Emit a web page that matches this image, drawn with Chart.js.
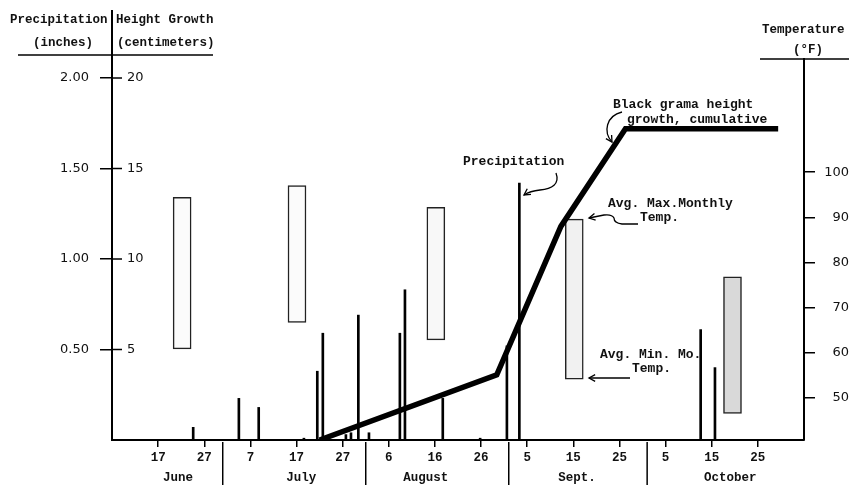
<!DOCTYPE html>
<html><head><meta charset="utf-8">
<script src="https://cdn.jsdelivr.net/npm/chart.js@4/dist/chart.umd.min.js"></script>
<style>html,body{margin:0;padding:0;background:#fff;}canvas{display:block;}</style>
</head><body>
<canvas id="c" width="849" height="485"></canvas>
<script>
// Day numbers counted from June 1 = 1
const precipDays   = [24.6, 34.5, 38.8, 48.6, 51.5, 52.7, 57.7, 58.8, 60.4, 62.7, 69.4, 70.5, 78.7, 86.8, 92.6, 95.3, 134.6, 137.7];
const precipInches = [0.07, 0.23, 0.18, 0.01, 0.38, 0.59, 0.03, 0.04, 0.69, 0.04, 0.59, 0.83, 0.23, 0.01, 0.52, 1.42, 0.61, 0.40];
const growthDays = [52, 90.4, 104.3, 118.3, 151.4];
const growthCm   = [0, 3.6, 11.8, 17.2, 17.2];
const tempDays = [22.2, 47.1, 77.2, 107.2, 141.5];
const tempMin  = [60.8, 66.7, 62.8, 54.1, 46.5];
const tempMax  = [94.4, 97.0, 92.2, 89.6, 76.8];
const dayTicks      = [17, 27, 37, 47, 57, 67, 77, 87, 97, 107, 117, 127, 137, 147];
const dayTickLabels = ['17','27','7','17','27','6','16','26','5','15','25','5','15','25'];
const monthStarts    = [31, 62, 93, 123];
const monthNames     = ['June', 'July', 'August', 'Sept.', 'October'];
const monthLabelDays = [21.3, 48, 75, 107.8, 141];
const inchTicks      = [0.5, 1, 1.5, 2];
const inchTickLabels = ['0.50', '1.00', '1.50', '2.00'];
const cmTicks        = [5, 10, 15, 20];
const cmTickLabels   = ['5', '10', '15', '20'];
const tempTicks      = [50, 60, 70, 80, 90, 100];

const TW = '"Liberation Mono", "Courier New", monospace';
const SANS = '"DejaVu Sans", sans-serif';

function arrowHead(ctx, x, y, fromX, fromY, len) {
  const a = Math.atan2(y - fromY, x - fromX);
  ctx.beginPath();
  ctx.moveTo(x - len * Math.cos(a - 0.5), y - len * Math.sin(a - 0.5));
  ctx.lineTo(x, y);
  ctx.lineTo(x - len * Math.cos(a + 0.5), y - len * Math.sin(a + 0.5));
  ctx.stroke();
}

const decor = {
  id: 'decor',
  afterDraw(chart) {
    const ctx = chart.ctx;
    const xs = chart.scales.x, yc = chart.scales.yCm;
    const ca = chart.chartArea;
    ctx.save();
    ctx.strokeStyle = '#000';
    ctx.fillStyle = '#111';
    // left axis extension upward and header rules
    ctx.lineWidth = 2;
    ctx.beginPath(); ctx.moveTo(ca.left, 10); ctx.lineTo(ca.left, ca.top); ctx.stroke();
    ctx.lineWidth = 1.5;
    ctx.beginPath(); ctx.moveTo(18, 55); ctx.lineTo(213, 55); ctx.stroke();
    ctx.beginPath(); ctx.moveTo(760, ca.top); ctx.lineTo(849, ca.top); ctx.stroke();
    // cm ticks and labels
    ctx.font = '13px ' + SANS;
    ctx.textAlign = 'left'; ctx.textBaseline = 'middle';
    cmTicks.forEach((v, i) => {
      const py = yc.getPixelForValue(v);
      ctx.beginPath(); ctx.moveTo(ca.left, py); ctx.lineTo(ca.left + 10, py); ctx.stroke();
      ctx.fillText(cmTickLabels[i], ca.left + 15, py);
    });
    // month dividers and labels
    ctx.lineWidth = 1.5;
    monthStarts.forEach(d => {
      const px = xs.getPixelForValue(d);
      ctx.beginPath(); ctx.moveTo(px, ca.bottom + 2); ctx.lineTo(px, 485); ctx.stroke();
    });
    ctx.font = 'bold 12.5px ' + TW;
    ctx.textAlign = 'center';
    monthNames.forEach((m, i) => ctx.fillText(m, xs.getPixelForValue(monthLabelDays[i]), 478));
    // headers
    ctx.textAlign = 'left';
    ctx.font = 'bold 12.5px ' + TW;
    ctx.fillText('Precipitation', 10, 20);
    ctx.fillText('Height Growth', 116, 20);
    ctx.fillText('(inches)', 33, 43);
    ctx.fillText('(centimeters)', 117, 43);
    ctx.fillText('Temperature', 762, 30);
    ctx.fillText('(°F)', 793, 50);
    // annotations
    ctx.font = 'bold 13px ' + TW;
    ctx.fillText('Precipitation', 463, 162);
    ctx.fillText('Black grama height', 613, 105);
    ctx.fillText('growth, cumulative', 627, 120);
    ctx.fillText('Avg. Max.Monthly', 608, 204);
    ctx.fillText('Temp.', 640, 218);
    ctx.fillText('Avg. Min. Mo.', 600, 355);
    ctx.fillText('Temp.', 632, 369);
    ctx.lineWidth = 1.3;
    // precipitation arrow
    ctx.beginPath(); ctx.moveTo(556, 173);
    ctx.bezierCurveTo(560, 184, 552, 189, 540, 190);
    ctx.quadraticCurveTo(530, 191, 524, 195); ctx.stroke();
    arrowHead(ctx, 524, 195, 530, 191, 7);
    // growth arrow
    ctx.beginPath(); ctx.moveTo(622, 112);
    ctx.bezierCurveTo(606, 116, 603, 132, 612, 142); ctx.stroke();
    arrowHead(ctx, 612, 142, 607, 134, 7);
    // max temp arrow
    ctx.beginPath(); ctx.moveTo(638, 224); ctx.lineTo(622, 224);
    ctx.quadraticCurveTo(614, 223, 614, 218);
    ctx.quadraticCurveTo(612, 214, 604, 215);
    ctx.lineTo(589, 218); ctx.stroke();
    arrowHead(ctx, 589, 218, 600, 216, 7);
    // min temp arrow
    ctx.beginPath(); ctx.moveTo(630, 378); ctx.lineTo(589, 378); ctx.stroke();
    arrowHead(ctx, 589, 378, 600, 378, 7);
    ctx.restore();
  }
};

new Chart(document.getElementById('c'), {
  type: 'bar',
  data: {
    datasets: [
      {
        type: 'line', label: 'Height growth', order: 0, yAxisID: 'yCm',
        data: growthDays.map((d, i) => ({x: d, y: growthCm[i]})),
        borderColor: '#000', borderWidth: 5.5, pointRadius: 0, tension: 0,
        borderJoinStyle: 'miter', borderCapStyle: 'butt', fill: false
      },
      {
        type: 'bar', label: 'Temperature', order: 1, yAxisID: 'yT', grouped: false,
        data: tempDays.map((d, i) => ({x: d, y: [tempMin[i], tempMax[i]]})),
        barThickness: 18, borderSkipped: false, borderWidth: 1.5, borderColor: '#222',
        backgroundColor: ['#fbfbfb', '#fbfbfb', '#f8f8f8', '#f1f1f1', '#d9d9d9']
      },
      {
        type: 'bar', label: 'Precipitation', order: 2, yAxisID: 'yIn', grouped: false,
        data: precipDays.map((d, i) => ({x: d, y: precipInches[i]})),
        barThickness: 2, borderWidth: 0, backgroundColor: '#000'
      }
    ]
  },
  options: {
    responsive: false, animation: false, devicePixelRatio: 1, events: [],
    layout: {padding: {top: 59, left: 0, right: 0, bottom: 0}},
    plugins: {legend: {display: false}, tooltip: {enabled: false}},
    scales: {
      x: {
        type: 'linear', min: 7, max: 157, offset: false, position: 'bottom',
        afterFit: s => { s.height = 45; },
        afterBuildTicks: s => { s.ticks = dayTicks.map(v => ({value: v})); },
        ticks: {
          autoSkip: false, maxRotation: 0, padding: 3, color: '#111',
          font: {family: TW, size: 12.5, weight: 'bold'},
          callback: (v) => dayTickLabels[dayTicks.indexOf(v)]
        },
        grid: {offset: false, drawOnChartArea: false, drawTicks: true, tickLength: 7, color: '#000', lineWidth: 1.5},
        border: {display: true, color: '#000', width: 2}
      },
      yIn: {
        type: 'linear', position: 'left', min: 0, max: 2.105,
        afterFit: s => { s.width = 112; },
        afterBuildTicks: s => { s.ticks = inchTicks.map(v => ({value: v})); },
        ticks: {
          padding: 11, color: '#111', font: {family: SANS, size: 13},
          callback: (v) => inchTickLabels[inchTicks.indexOf(v)]
        },
        grid: {drawOnChartArea: false, drawTicks: true, tickLength: 12, color: '#000', lineWidth: 1.5},
        border: {display: true, color: '#000', width: 2}
      },
      yCm: {type: 'linear', display: false, min: 0, max: 21.05},
      yT: {
        type: 'linear', position: 'right', min: 40.6, max: 125.1,
        afterFit: s => { s.width = 45; },
        afterBuildTicks: s => { s.ticks = tempTicks.map(v => ({value: v})); },
        ticks: {
          padding: 5, crossAlign: 'far', color: '#111', font: {family: SANS, size: 13},
          callback: (v) => String(v)
        },
        grid: {drawOnChartArea: false, drawTicks: true, tickLength: 11, color: '#000', lineWidth: 1.5},
        border: {display: true, color: '#000', width: 2}
      }
    }
  },
  plugins: [decor]
});
</script>
</body></html>
